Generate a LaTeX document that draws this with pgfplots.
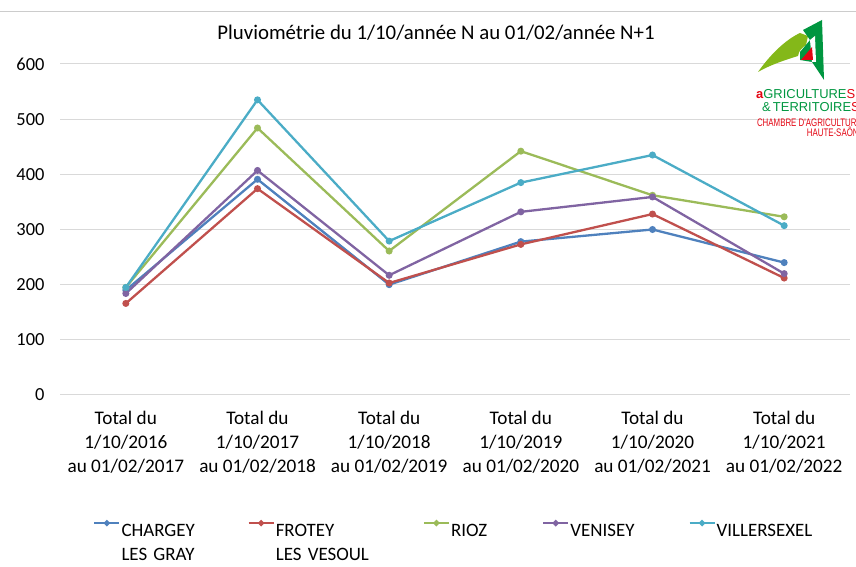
\documentclass[border=0pt]{standalone}
\usepackage{pgfplots}
\pgfplotsset{compat=1.18}
\usepackage{fontspec}
\setmainfont{Carlito}
\newfontfamily\logofont{Liberation Sans}
\definecolor{cBlue}{HTML}{4F81BD}
\definecolor{cRed}{HTML}{C0504D}
\definecolor{cGreen}{HTML}{9BBB59}
\definecolor{cPurple}{HTML}{8064A2}
\definecolor{cCyan}{HTML}{4BACC6}
\definecolor{logoRed}{HTML}{E30613}
\definecolor{logoGreen}{HTML}{009640}
\definecolor{logoLight}{HTML}{84B819}
\begin{document}
\begin{tikzpicture}[x=1bp,y=1bp]
\begin{axis}[
  scale only axis, width=790bp, height=331bp,
  xmin=-0.5, xmax=5.5, ymin=0, ymax=600,
  ytick={0,100,...,600},
  xtick={0,...,5},
  xticklabels={{Total du\\1/10/2016\\au 01/02/2017},{Total du\\1/10/2017\\au 01/02/2018},{Total du\\1/10/2018\\au 01/02/2019},{Total du\\1/10/2019\\au 01/02/2020},{Total du\\1/10/2020\\au 01/02/2021},{Total du\\1/10/2021\\au 01/02/2022}},
  xticklabel style={align=center, font=\fontsize{19.3}{24}\selectfont, yshift=-13bp},
  yticklabel style={font=\fontsize{18.5}{22}\selectfont, xshift=-12bp},
  /pgf/number format/assume math mode=true,
  ymajorgrids, grid style={draw=black!15, line width=1bp},
  axis line style={draw=none},
  major tick style={draw=none},
  every axis plot/.append style={line width=2.3bp, mark=*, mark size=2.3bp},
  legend columns=5,
  legend style={at={(0.038,-0.375)}, anchor=north west, draw=none, fill=none,
    font=\fontsize{19}{23.5}\selectfont,
    nodes={inner sep=1bp, anchor=north west, align=left, text depth=0pt},
    /tikz/every even column/.append style={column sep=0bp}},
  legend cell align=left,
  legend image code/.code={\draw[mark repeat=2,mark phase=2,#1,mark size=1.8bp] plot coordinates {(0bp,0bp)(12.5bp,0bp)(25bp,0bp)};},
]
\coordinate (O) at (rel axis cs:0,0);
\addplot[cBlue] coordinates {(0,190)(1,391)(2,200)(3,278)(4,300)(5,240)};
\addlegendentry[text width=125bp]{CHARGEY\\LES GRAY}
\addplot[cRed] coordinates {(0,166)(1,374)(2,203)(3,273)(4,328)(5,212)};
\addlegendentry[text width=146bp]{FROTEY\\LES VESOUL}
\addplot[cGreen] coordinates {(0,195)(1,484)(2,261)(3,442)(4,362)(5,323)};
\addlegendentry[text width=90bp]{RIOZ}
\addplot[cPurple] coordinates {(0,184)(1,407)(2,217)(3,332)(4,359)(5,220)};
\addlegendentry[text width=117bp]{VENISEY}
\addplot[cCyan] coordinates {(0,195)(1,535)(2,279)(3,385)(4,435)(5,307)};
\addlegendentry{VILLERSEXEL}
\end{axis}
\begin{scope}[shift={(O)}, xshift=-60bp, yshift=-172bp]
\pgfresetboundingbox
\path[use as bounding box] (0,0) rectangle (856,567);
\draw[black!20, line width=0.8bp] (0,556) -- (856,556);
\node[font=\fontsize{20.9}{24}\selectfont] at (436,534) {Pluviométrie du 1/10/année N au 01/02/année N+1};
% logo
\fill[logoLight] (758,495) .. controls (770,512) and (785,527) .. (800,534) -- (808,531) -- (806,522) .. controls (802,519) and (799,517) .. (798,511) .. controls (785,507) and (770,502) .. cycle;
\fill[logoGreen] (803,537) -- (822,547) -- (824,487) -- (812,505) -- (800,507) -- (800,515) -- (810,527) -- cycle;
\fill[white] (810,527) -- (815,531) -- (816,505) -- (812,505) -- cycle;
\fill[logoRed] (801,507) -- (812,520) -- (813,507) -- cycle;
\node[anchor=base west, inner sep=0, font=\logofont\fontsize{13}{13}\selectfont] at (756,468) {\textcolor{logoRed}{\bfseries a}\textcolor{logoGreen}{GRICULTURE}\textcolor{logoRed}{S}};
\node[anchor=base east, inner sep=0, font=\logofont\fontsize{13}{13}\selectfont] at (860,455) {\textcolor{logoGreen}{\&\,TERRITOIRE}\textcolor{logoRed}{S}};
\node[anchor=base east, inner sep=0, font=\logofont\fontsize{11}{11}\selectfont, xscale=0.72] at (862,440) {\textcolor{logoRed}{CHAMBRE D'AGRICULTURE}};
\node[anchor=base east, inner sep=0, font=\logofont\fontsize{11}{11}\selectfont, xscale=0.72] at (864,430) {\textcolor{logoRed}{HAUTE-SAÔNE}};
\end{scope}
\end{tikzpicture}
\end{document}
